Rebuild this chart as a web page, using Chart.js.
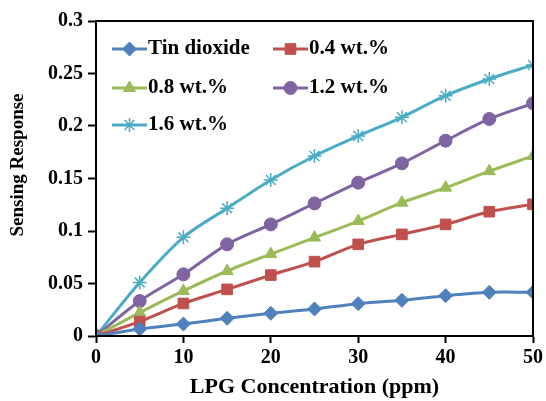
<!DOCTYPE html>
<html>
<head>
<meta charset="utf-8">
<script src="https://cdn.jsdelivr.net/npm/chart.js@4/dist/chart.umd.min.js"></script>
<style>
  html, body { margin: 0; padding: 0; background: #fff; }
  canvas { display: block; }
</style>
</head>
<body>
<canvas id="sensorChart" width="546" height="401"></canvas>
<script>
// LPG concentration (ppm)
const concentrations = [0, 5, 10, 15, 20, 25, 30, 35, 40, 45, 50];

const seriesNames = ["Tin dioxide", "0.4 wt.%", "0.8 wt.%", "1.2 wt.%", "1.6 wt.%"];

const tinDioxide = [0, 0.0067, 0.0114, 0.0168, 0.0216, 0.0257, 0.0308, 0.034, 0.0384, 0.0416, 0.0416];
const wt04 = [0, 0.0137, 0.031, 0.0444, 0.058, 0.0708, 0.0873, 0.0968, 0.1063, 0.1184, 0.1254];
const wt08 = [0, 0.0222, 0.0429, 0.0619, 0.078, 0.0937, 0.1095, 0.127, 0.1413, 0.157, 0.1714];
const wt12 = [0, 0.0333, 0.0587, 0.0873, 0.1063, 0.1263, 0.146, 0.1644, 0.186, 0.2067, 0.2216];
const wt16 = [0, 0.051, 0.094, 0.1216, 0.1486, 0.1714, 0.1905, 0.2083, 0.2289, 0.2448, 0.2581];

const yTicks = [0, 0.05, 0.1, 0.15, 0.2, 0.25, 0.3];
const xTicks = [0, 10, 20, 30, 40, 50];
const yTitle = "Sensing Response";
const xTitle = "LPG Concentration (ppm)";

const colors = ["#4F81BD", "#C0504D", "#9BBB59", "#8064A2", "#4BACC6"];
const markers = ["rectRot", "rect", "triangle", "circle", "star"];
const sizes = [7, 7.5, 7, 6.5, 7];

const allSeries = [tinDioxide, wt04, wt08, wt12, wt16];

const datasets = allSeries.map((vals, i) => ({
    label: seriesNames[i],
    data: concentrations.map((x, j) => ({ x: x, y: vals[j] })),
    borderColor: colors[i],
    backgroundColor: colors[i],
    pointBackgroundColor: colors[i],
    pointBorderColor: colors[i],
    pointStyle: markers[i],
    pointRadius: sizes[i],
    pointBorderWidth: i === 4 ? 1.5 : 1,
    borderWidth: 3,
    tension: 0.3,
    fill: false
}));

const serif = "'Liberation Serif', 'Times New Roman', serif";

// frame around the plot area + the y title (sits a bit above centre in the original)
const boxPlugin = {
    id: "box",
    afterDraw(chart) {
        const a = chart.chartArea;
        const ctx = chart.ctx;
        ctx.save();
        ctx.strokeStyle = "#000";
        ctx.lineWidth = 2;
        ctx.strokeRect(a.left, a.top, a.right - a.left, a.bottom - a.top);

        ctx.translate(18, 165);
        ctx.rotate(-Math.PI / 2);
        ctx.font = "bold 19px " + serif;
        ctx.fillStyle = "#000";
        ctx.textAlign = "center";
        ctx.textBaseline = "middle";
        ctx.fillText(yTitle, 0, 0);
        ctx.restore();
    }
};

// legend drawn inside the plot area, two columns
const insideLegend = {
    id: "insideLegend",
    afterDraw(chart) {
        const ctx = chart.ctx;
        const colX = [112, 273];
        const rowY = [49, 88, 125];
        ctx.save();
        ctx.font = "bold 21px " + serif;
        ctx.textBaseline = "middle";
        ctx.textAlign = "left";
        chart.data.datasets.forEach((ds, i) => {
            const x = colX[i % 2];
            const y = rowY[Math.floor(i / 2)];
            ctx.strokeStyle = ds.borderColor;
            ctx.lineWidth = 3;
            ctx.beginPath();
            ctx.moveTo(x, y);
            ctx.lineTo(x + 35, y);
            ctx.stroke();
            ctx.fillStyle = ds.pointBackgroundColor;
            ctx.strokeStyle = ds.pointBorderColor;
            ctx.lineWidth = ds.pointBorderWidth;
            Chart.helpers.drawPoint(ctx, {
                pointStyle: ds.pointStyle,
                radius: ds.pointRadius,
                rotation: 0,
                borderWidth: ds.pointBorderWidth
            }, x + 17.5, y);
            ctx.fillStyle = "#000";
            ctx.fillText(ds.label, x + 36, y);
        });
        ctx.restore();
    }
};

new Chart(document.getElementById("sensorChart").getContext("2d"), {
    type: "line",
    data: { datasets: datasets },
    options: {
        responsive: false,
        animation: false,
        layout: { padding: { left: 0, right: 12, top: 21, bottom: 0 } },
        plugins: {
            legend: { display: false },
            tooltip: { enabled: false }
        },
        scales: {
            x: {
                type: "linear",
                min: 0,
                max: 50,
                afterBuildTicks(scale) {
                    scale.ticks = xTicks.map(v => ({ value: v }));
                },
                afterFit(scale) { scale.height = 65; },
                grid: { drawOnChartArea: false, drawTicks: true, tickLength: 7, color: "#000", tickWidth: 2 },
                border: { color: "#000", width: 2 },
                ticks: {
                    color: "#000",
                    padding: 3,
                    font: { family: serif, size: 20, weight: "bold" },
                    maxRotation: 0
                },
                title: {
                    display: true,
                    text: xTitle,
                    color: "#000",
                    font: { family: serif, size: 22, weight: "bold" },
                    padding: { top: 0, bottom: 0 }
                }
            },
            y: {
                type: "linear",
                min: 0,
                max: 0.3,
                afterBuildTicks(scale) {
                    scale.ticks = yTicks.map(v => ({ value: v }));
                },
                afterFit(scale) { scale.width = 96; },
                grid: { drawOnChartArea: false, drawTicks: true, tickLength: 8, color: "#000", tickWidth: 2 },
                border: { color: "#000", width: 2 },
                ticks: {
                    color: "#000",
                    padding: 5,
                    font: { family: serif, size: 20, weight: "bold" },
                    callback: v => String(Math.round(v * 100) / 100)
                },
                title: { display: false }
            }
        }
    },
    plugins: [boxPlugin, insideLegend]
});
</script>
</body>
</html>
